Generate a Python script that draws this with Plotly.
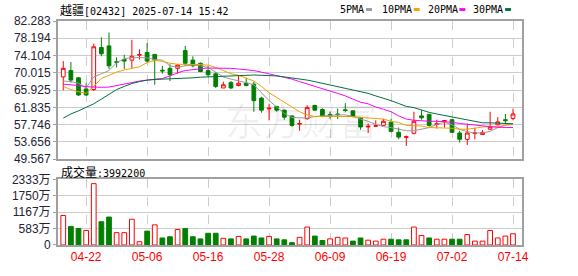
import plotly.graph_objects as go

dates = ["04-15","04-16","04-17","04-22","04-23","04-24","04-25","04-28","04-29","04-30",
         "05-02","05-06","05-07","05-08","05-09","05-12","05-13","05-14","05-15","05-16",
         "05-19","05-20","05-21","05-22","05-23","05-26","05-27","05-28","05-29","05-30",
         "06-02","06-03","06-04","06-05","06-06","06-09","06-10","06-11","06-12","06-13",
         "06-16","06-17","06-18","06-19","06-20","06-23","06-24","06-25","06-26","06-27",
         "06-30","07-02","07-03","07-04","07-07","07-08","07-09","07-10","07-11","07-14"]

opens = [69.04, 70.54, 68.82, 66.19, 66.04, 76.02, 76.39, 72.64, 73.17, 73.02,
         74.22, 74.82, 74.37, 70.62, 71.07, 71.07, 75.27, 73.02, 72.27, 70.54,
         69.79, 66.42, 67.69, 67.02, 67.54, 67.32, 64.02, 61.46, 62.06, 61.17,
         59.81, 57.86, 59.14, 62.29, 61.32, 60.11, 60.26, 61.24, 61.01, 59.44,
         57.19, 57.34, 57.56, 58.31, 55.91, 54.71, 55.69, 59.81, 60.19, 57.79,
         58.54, 58.91, 55.76, 54.26, 55.61, 55.39, 56.66, 57.71, 58.91, 59.21]
highs = [72.79, 72.57, 69.04, 67.54, 76.92, 78.42, 79.54, 73.69, 74.29, 77.82,
         75.57, 77.07, 74.37, 71.67, 72.04, 72.04, 76.39, 73.92, 72.42, 71.67,
         70.17, 67.92, 68.07, 69.42, 68.82, 67.92, 64.32, 62.66, 62.06, 61.32,
         59.81, 58.91, 62.29, 62.44, 61.61, 60.79, 61.54, 62.82, 61.01, 59.44,
         58.01, 58.76, 59.06, 59.06, 57.04, 55.16, 60.79, 61.17, 60.19, 58.91,
         58.69, 59.06, 56.29, 58.01, 57.04, 56.44, 60.79, 59.51, 60.26, 61.54]
lows = [65.89, 67.69, 64.54, 64.54, 65.67, 73.92, 70.92, 71.29, 70.92, 70.92,
        73.17, 72.42, 67.17, 69.79, 68.07, 69.79, 71.67, 71.29, 70.17, 69.04,
        66.42, 66.42, 66.19, 66.79, 66.79, 60.79, 60.57, 58.76, 60.79, 58.91,
        57.26, 56.29, 58.91, 61.01, 59.51, 59.14, 59.06, 60.64, 59.44, 56.51,
        55.76, 57.26, 57.41, 55.91, 54.26, 52.69, 55.39, 58.91, 57.26, 56.81,
        57.04, 55.91, 53.51, 52.91, 54.26, 55.39, 56.51, 57.56, 58.01, 58.76]
closes = [71.07, 68.29, 64.77, 64.77, 76.17, 74.52, 71.67, 72.49, 72.79, 73.92,
          74.29, 72.79, 73.02, 70.47, 69.57, 71.82, 72.27, 71.67, 70.32, 69.57,
          66.79, 67.17, 66.42, 67.54, 67.02, 63.42, 61.17, 61.62, 61.17, 59.51,
          57.56, 58.01, 61.76, 61.17, 59.66, 59.96, 60.11, 61.09, 59.81, 57.19,
          57.34, 57.49, 58.54, 56.14, 54.79, 54.86, 58.54, 59.36, 57.56, 57.94,
          58.69, 55.91, 54.26, 55.76, 55.76, 55.91, 57.26, 58.39, 58.69, 60.26]

# volume in 万 (10k shares)
volumes = [1050, 661, 583, 517, 2183, 828, 994, 439, 439, 917,
           117, 494, 717, 250, 294, 550, 583, 294, 217, 417,
           417, 239, 217, 306, 217, 317, 250, 306, 217, 183,
           83, 272, 639, 317, 161, 217, 272, 250, 139, 250,
           172, 139, 206, 206, 183, 183, 639, 339, 250, 206,
           206, 206, 206, 372, 139, 139, 517, 250, 317, 399.22]
vol_up = [1, 0, 0, 1, 1, 0, 0, 1, 1, 1,
          1, 0, 1, 0, 0, 1, 0, 0, 0, 0,
          0, 1, 0, 1, 0, 0, 0, 1, 0, 0,
          0, 1, 1, 0, 0, 1, 1, 1, 0, 0,
          1, 1, 1, 0, 0, 0, 1, 1, 0, 1,
          1, 0, 0, 1, 1, 1, 1, 1, 1, 1]

ma5 = [68.07, 67.92, 67.54, 66.42, 69.04, 69.79, 70.54, 72.42, 73.32, 73.69,
       73.69, 73.54, 73.17, 73.02, 71.67, 71.29, 71.67, 71.82, 71.67, 71.29,
       70.17, 69.04, 68.52, 68.14, 67.69, 67.17, 65.29, 63.42, 61.91, 60.41,
       59.44, 59.29, 59.29, 59.66, 59.81, 59.89, 60.04, 60.04, 59.66, 59.06,
       58.54, 57.79, 57.26, 57.04, 56.66, 56.29, 56.29, 56.66, 57.04, 57.79,
       58.31, 57.71, 56.66, 56.06, 55.76, 55.76, 56.14, 57.04, 57.64, 58.01]
ma10 = [66.79, 66.04, 65.52, 65.14, 66.79, 68.67, 69.42, 70.17, 70.69, 71.14,
        71.44, 72.42, 72.94, 72.72, 72.27, 72.04, 72.04, 72.04, 71.97, 71.82,
        71.29, 70.54, 69.79, 69.42, 68.82, 68.07, 66.79, 65.29, 64.17, 63.04,
        61.76, 60.79, 60.04, 59.66, 59.66, 59.66, 59.81, 59.81, 59.66, 59.44,
        59.29, 59.29, 59.06, 58.54, 58.24, 57.56, 57.56, 57.41, 57.04, 57.04,
        57.04, 56.89, 56.66, 56.66, 56.89, 57.19, 57.26, 57.26, 57.56, 57.79]
ma20 = [67.32, 67.24, 67.02, 66.72, 66.57, 66.57, 66.64, 66.94, 67.32, 67.69,
        68.07, 68.29, 68.44, 68.67, 69.27, 70.02, 70.54, 70.84, 70.99, 71.14,
        71.14, 71.14, 71.07, 70.92, 70.77, 70.54, 70.17, 69.79, 69.42, 69.04,
        68.52, 67.92, 67.39, 66.79, 66.27, 65.67, 65.14, 64.54, 63.79, 63.04,
        62.67, 61.91, 61.39, 60.79, 59.81, 59.06, 58.76, 58.61, 58.54, 58.54,
        58.46, 58.31, 58.01, 57.79, 57.64, 57.41, 57.26, 57.11, 57.04, 57.04]
ma30 = [59.29, 60.26, 61.01, 61.76, 62.67, 63.79, 64.92, 66.04, 66.79, 67.47,
        67.92, 68.29, 68.44, 68.52, 68.52, 68.52, 68.67, 68.82, 68.97, 69.04,
        69.12, 69.19, 69.34, 69.49, 69.49, 69.49, 69.42, 69.42, 69.27, 69.04,
        68.82, 68.67, 68.29, 67.92, 67.54, 67.17, 66.79, 66.42, 66.04, 65.67,
        65.14, 64.54, 64.02, 63.42, 62.74, 62.06, 61.76, 61.17, 60.64, 60.26,
        59.89, 59.66, 59.29, 58.91, 58.39, 58.17, 58.17, 58.09, 58.01, 57.94]

price_ticks = [49.567, 53.656, 57.746, 61.835, 65.925, 70.015, 74.104, 78.194, 82.283]
price_tick_text = ["49.567", "53.656", "57.746", "61.835", "65.925", "70.015", "74.104", "78.194", "82.283"]
vol_ticks = [0, 583, 1167, 1750, 2333]
vol_tick_text = ["0", "583万", "1167万", "1750万", "2333万"]
date_ticks = ["04-22", "05-06", "05-16", "05-28", "06-09", "06-19", "07-02", "07-14"]

title_name = "越疆"
title_rest = "[02432] 2025-07-14 15:42"
vol_label = "成交量:3992200"
ma_names = ["5PMA", "10PMA", "20PMA", "30PMA"]

RED = "#ff0000"
GREEN = "#008000"
MA_COLORS = ["#999999", "#f0a000", "#ff00ff", "#00703c"]

W, H = 578, 276
ML, MR, MT, MB = 55, 56, 21, 21
PW = W - ML - MR
PH = H - MT - MB


def px_x(px):
    return (px - ML) / PW


def px_y(py):
    return (H - MB - py) / PH


XR = [-0.69, 60.18]

fig = go.Figure()

fig.add_trace(go.Candlestick(
    x=dates, open=opens, high=highs, low=lows, close=closes,
    increasing=dict(line=dict(color=RED, width=1), fillcolor="#ffffff"),
    decreasing=dict(line=dict(color=GREEN, width=1), fillcolor=GREEN),
    whiskerwidth=0, xaxis="x", yaxis="y", hoverinfo="skip", showlegend=False,
))

for vals, col in zip([ma5, ma10, ma20, ma30], MA_COLORS):
    fig.add_trace(go.Scatter(x=dates, y=vals, mode="lines",
                             line=dict(color=col, width=1),
                             xaxis="x", yaxis="y", hoverinfo="skip", showlegend=False))

fig.add_trace(go.Bar(
    x=dates, y=volumes, width=0.62,
    marker=dict(color=["#ffffff" if u else GREEN for u in vol_up],
                line=dict(color=[RED if u else GREEN for u in vol_up], width=1)),
    xaxis="x2", yaxis="y2", hoverinfo="skip", showlegend=False,
))

axis_common = dict(showline=True, mirror=True, linecolor="#a0a0a0", linewidth=2)

fig.update_layout(
    width=W, height=H,
    margin=dict(l=ML, r=MR, t=MT, b=MB),
    paper_bgcolor="white", plot_bgcolor="white",
    showlegend=False, hovermode=False,
    boxgap=0.3,
    xaxis=dict(domain=[0, 1], anchor="y", type="category", range=XR,
               tickvals=date_ticks, showticklabels=False, ticks="",
               showgrid=True, gridcolor="#cccccc", griddash="dash", gridwidth=1,
               rangeslider=dict(visible=False), zeroline=False, **axis_common),
    yaxis=dict(domain=[px_y(165.3), 1], anchor="x", range=[price_ticks[0], price_ticks[-1]],
               tickvals=price_ticks, ticktext=price_tick_text,
               ticks="outside", ticklen=3, tickcolor="#a0a0a0",
               tickfont=dict(family="Liberation Sans, Arial", size=12, color="#222233"),
               showgrid=True, gridcolor="#cccccc", gridwidth=1, zeroline=False, **axis_common),
    xaxis2=dict(domain=[0, 1], anchor="y2", type="category", range=XR,
                tickvals=date_ticks, ticktext=date_ticks, ticks="",
                tickfont=dict(family="Liberation Sans, Arial", size=12, color=RED),
                showgrid=True, gridcolor="#cccccc", griddash="dash", gridwidth=1,
                zeroline=False, **axis_common),
    yaxis2=dict(domain=[0, px_y(186.5)], anchor="x2", range=[0, vol_ticks[-1]],
                tickvals=vol_ticks, ticktext=vol_tick_text,
                ticks="outside", ticklen=3, tickcolor="#a0a0a0",
                tickfont=dict(family="Liberation Sans, Noto Sans CJK SC", size=12, color="#222233"),
                showgrid=True, gridcolor="#cccccc", gridwidth=1, zeroline=False, **axis_common),
)

annotations = []
# watermark
annotations.append(dict(xref="paper", yref="paper", x=px_x(300), y=px_y(92),
                        text="东方财富", showarrow=False,
                        font=dict(family="Noto Sans CJK SC", size=38, color="rgba(0,0,0,0.06)")))
# title
annotations.append(dict(xref="paper", yref="paper", x=px_x(55), y=px_y(8.5),
                        xanchor="left", yanchor="middle", showarrow=False,
                        text="<span style='font-family:Noto Sans CJK SC;font-size:12px'>" + title_name + "</span>" + title_rest,
                        font=dict(family="DejaVu Sans Mono", size=10, color="#000000")))
# volume label
annotations.append(dict(xref="paper", yref="paper", x=px_x(56), y=px_y(177.7),
                        xanchor="left", yanchor="middle", showarrow=False,
                        text="<span style='font-family:Noto Sans CJK SC;font-size:12px'>" + vol_label[:3] + "</span>" + vol_label[3:],
                        font=dict(family="DejaVu Sans Mono", size=10, color="#000000")))
# MA legend
leg_text_x = [337, 379, 425, 471]
leg_sq_x = [365, 413, 459, 505]
shapes = []
for name, tx, sx, col in zip(ma_names, leg_text_x, leg_sq_x, MA_COLORS):
    annotations.append(dict(xref="paper", yref="paper", x=px_x(tx), y=px_y(8.5),
                            xanchor="left", yanchor="middle", showarrow=False, text=name,
                            font=dict(family="DejaVu Sans Mono", size=10, color="#000000")))
    shapes.append(dict(type="rect", xref="paper", yref="paper",
                       x0=px_x(sx), x1=px_x(sx + 6), y0=px_y(10.5), y1=px_y(7.5),
                       fillcolor=col, line=dict(width=0)))

fig.update_layout(annotations=annotations, shapes=shapes)

fig.write_html("out.html")
